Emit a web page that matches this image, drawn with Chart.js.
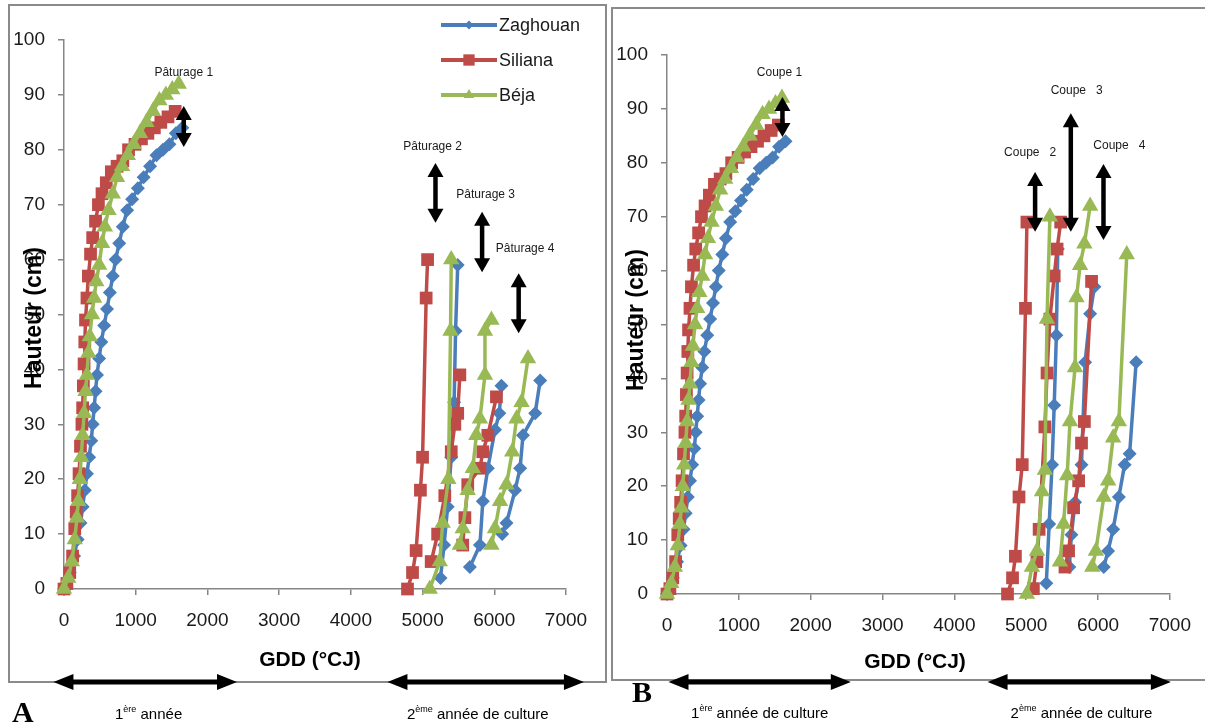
<!DOCTYPE html>
<html>
<head>
<meta charset="utf-8">
<script src="https://cdn.jsdelivr.net/npm/chart.js@4.4.0/dist/chart.umd.min.js"></script>
<style>
  body { margin: 0; background: #fff; width: 1205px; height: 727px; overflow: hidden; }
  #wrapA { position: absolute; left: 0; top: 0; }
  #wrapB { position: absolute; left: 610px; top: 0; }
</style>
</head>
<body>
<div id="wrapA"><canvas id="chartA" width="610" height="727"></canvas></div>
<div id="wrapB"><canvas id="chartB" width="595" height="727"></canvas></div>
<script>
// 1ere annee : GDD (°CJ) et hauteur (cm), memes courbes en A et B
var zagX1 = [0,80,140,190,230,260,290,320,350,380,400,420,440,460,490,520,560,600,640,680,720,770,820,880,950,1030,1110,1200,1290,1380,1470,1560,1650];
var zagY1 = [0,3,6,9,12,15,18,21,24,27,30,33,36,39,42,45,48,51,54,57,60,63,66,69,71,73,75,77,79,80,81,83,84];
var silX1 = [0,40,80,120,150,170,190,210,230,250,260,270,280,290,300,320,340,370,400,440,480,530,590,660,740,820,900,990,1080,1170,1260,1350,1450,1550];
var silY1 = [0,1,3,6,11,14,17,21,26,30,33,37,41,45,49,53,57,61,64,67,70,72,74,76,77,78,80,81,82,83,84,85,86,87];
var bejX1 = [0,60,110,150,180,200,220,240,260,280,300,320,340,360,390,420,450,490,530,570,620,680,740,810,890,970,1060,1150,1240,1330,1420,1510,1600];
var bejY1 = [0,2,5,9,13,16,20,24,28,32,36,39,43,46,50,53,56,59,63,66,69,72,75,77,79,81,83,85,87,89,90,91,92];

// 2eme annee, A (repousses entre paturages 2, 3, 4)
var zagA_x = [[5250,5300,5350,5400,5440,5460,5490], [5660,5800,5840,5910,6010,6070,6100], [6110,6170,6290,6360,6400,6570,6640]];
var zagA_y = [[2,8,15,24,34,47,59], [4,8,16,22,29,32,37], [10,12,18,22,28,32,38]];
var silA_x = [[4790,4860,4910,4970,5000,5050,5070], [5120,5210,5310,5400,5450,5490,5520], [5560,5590,5630,5800,5840,5910,6030]];
var silA_y = [[0,3,7,18,24,53,60], [5,10,17,25,30,32,39], [8,13,19,22,25,28,35]];
var bejA_x = [[5100,5240,5280,5360,5390,5400], [5520,5560,5630,5700,5750,5800,5870,5870,5960], [5960,6010,6080,6170,6250,6310,6380,6470]];
var bejA_y = [[0,5,12,20,47,60], [8,11,18,22,28,31,39,47,49], [8,11,16,19,25,31,34,42]];

// 2eme annee, B (coupes 2, 3, 4)
var zagB_x = [[5280,5320,5360,5390,5420,5440], [5600,5630,5680,5770,5820,5890,5950], [6080,6140,6210,6290,6370,6440,6530]];
var zagB_y = [[2,13,24,35,48,64], [5,11,17,24,43,52,57], [5,8,12,18,24,26,43]];
var silB_x = [[4740,4810,4850,4900,4945,4990,5010], [5100,5150,5180,5260,5290,5330,5390,5430,5480], [5540,5590,5660,5730,5770,5810,5910]];
var silB_y = [[0,3,7,18,24,53,69], [1,6,12,31,41,51,59,64,69], [5,8,16,21,28,32,58]];
var bejB_x = [[5010,5080,5150,5220,5260,5290,5330], [5470,5520,5570,5610,5680,5700,5750,5810,5890], [5920,5970,6080,6140,6210,6290,6400]];
var bejB_y = [[0,5,8,19,23,51,70], [6,13,22,32,42,55,61,65,72], [5,8,18,21,29,32,63]];

var seriesNames = ['Zaghouan', 'Siliana', 'Béja'];
var xTicks = [0, 7000, 1000];   // min, max, pas
var yTicks = [0, 100, 10];

// annotations des coupes (en unites des axes)
var cutsA = {
  labels: ['Pâturage 1', 'Pâturage 2', 'Pâturage 3', 'Pâturage 4'],
  textX: [1670, 5140, 5880, 6430], textY: [94, 80.5, 71.8, 62],
  arrowX: [1670, 5180, 5830, 6340], arrowTop: [88, 77.6, 68.7, 57.5], arrowBot: [80.5, 66.7, 57.7, 46.6]
};
var cutsB = {
  labels: ['Coupe 1', 'Coupe   2', 'Coupe   3', 'Coupe   4'],
  textX: [1566, 5055, 5703, 6297], textY: [96.7, 81.8, 93.3, 83.1],
  arrowX: [1607, 5124, 5621, 6076], arrowTop: [92.2, 78.3, 89.2, 79.8], arrowBot: [84.8, 67.2, 67.2, 65.7]
};

var colors = ['#4A7EBB', '#BE4B48', '#98B954'];
var styles = ['rectRot', 'rect', 'triangle'];
var radii = [7, 9, 9.5];

Chart.defaults.font.family = '"Liberation Sans", Arial, sans-serif';

function mkSet(xs, ys, i) {
  return {
    label: seriesNames[i],
    data: xs.map(function(x, j) { return { x: x, y: ys[j] }; }),
    showLine: true,
    borderColor: colors[i],
    backgroundColor: colors[i],
    borderWidth: 3.5,
    pointStyle: styles[i],
    pointRadius: radii[i],
    pointHoverRadius: radii[i],
    pointBorderWidth: 0,
    clip: false,
    order: 3 - i
  };
}

function buildSets(x1s, y1s, x2s, y2s) {
  var out = [];
  for (var i = 0; i < 3; i++) {
    out.push(mkSet(x1s[i], y1s[i], i));
    for (var k = 0; k < x2s[i].length; k++) out.push(mkSet(x2s[i][k], y2s[i][k], i));
  }
  return out;
}

function drawArrowV(ctx, x, yTop, yBot, head, w) {
  ctx.beginPath();
  ctx.lineWidth = w;
  ctx.moveTo(x, yTop + head - 1); ctx.lineTo(x, yBot - head + 1); ctx.stroke();
  ctx.beginPath();
  ctx.moveTo(x, yTop); ctx.lineTo(x - 8, yTop + head); ctx.lineTo(x + 8, yTop + head); ctx.closePath(); ctx.fill();
  ctx.beginPath();
  ctx.moveTo(x, yBot); ctx.lineTo(x - 8, yBot - head); ctx.lineTo(x + 8, yBot - head); ctx.closePath(); ctx.fill();
}

function drawArrowH(ctx, x0, x1, y) {
  var head = 20;
  ctx.beginPath();
  ctx.lineWidth = 5;
  ctx.moveTo(x0 + head - 1, y); ctx.lineTo(x1 - head + 1, y); ctx.stroke();
  ctx.beginPath();
  ctx.moveTo(x0, y); ctx.lineTo(x0 + head, y - 8); ctx.lineTo(x0 + head, y + 8); ctx.closePath(); ctx.fill();
  ctx.beginPath();
  ctx.moveTo(x1, y); ctx.lineTo(x1 - head, y - 8); ctx.lineTo(x1 - head, y + 8); ctx.closePath(); ctx.fill();
}

function drawYearText(ctx, num, sup, rest, cx, y) {
  ctx.font = '15px "Liberation Sans", Arial, sans-serif';
  var w1 = ctx.measureText(num).width, w3 = ctx.measureText(rest).width;
  ctx.font = '9px "Liberation Sans", Arial, sans-serif';
  var w2 = ctx.measureText(sup).width;
  var x = cx - (w1 + w2 + w3) / 2;
  ctx.textAlign = 'left';
  ctx.textBaseline = 'alphabetic';
  ctx.font = '15px "Liberation Sans", Arial, sans-serif';
  ctx.fillText(num, x, y);
  ctx.font = '9px "Liberation Sans", Arial, sans-serif';
  ctx.fillText(sup, x + w1, y - 7);
  ctx.font = '15px "Liberation Sans", Arial, sans-serif';
  ctx.fillText(rest, x + w1 + w2, y);
}

var decor = {
  id: 'decor',
  afterDatasetsDraw: function(chart, args, o) {
    var ctx = chart.ctx, xs = chart.scales.x, ys = chart.scales.y;
    ctx.save();
    // cadre
    ctx.strokeStyle = '#8a8a8a';
    ctx.lineWidth = 2;
    ctx.strokeRect(o.frame[0], o.frame[1], o.frame[2], o.frame[3]);

    // titres des axes
    ctx.fillStyle = '#000';
    ctx.textAlign = 'center';
    ctx.textBaseline = 'middle';
    ctx.font = 'bold 21px "Liberation Sans", Arial, sans-serif';
    ctx.fillText('GDD (°CJ)', o.xTitle[0], o.xTitle[1]);
    ctx.save();
    ctx.translate(o.yTitle[0], o.yTitle[1]);
    ctx.rotate(-Math.PI / 2);
    ctx.font = 'bold 23px "Liberation Sans", Arial, sans-serif';
    ctx.fillText('Hauteur (cm)', 0, 0);
    ctx.restore();

    // fleches des coupes
    var c = o.cuts;
    ctx.fillStyle = '#000';
    ctx.strokeStyle = '#000';
    for (var i = 0; i < c.labels.length; i++) {
      var ax = xs.getPixelForValue(c.arrowX[i]);
      drawArrowV(ctx, ax, ys.getPixelForValue(c.arrowTop[i]), ys.getPixelForValue(c.arrowBot[i]), 14, 4.5);
      ctx.font = '12px "Liberation Sans", Arial, sans-serif';
      ctx.fillStyle = '#1a1a1a';
      ctx.textAlign = 'center';
      ctx.fillText(c.labels[i], xs.getPixelForValue(c.textX[i]), ys.getPixelForValue(c.textY[i]));
      ctx.fillStyle = '#000';
    }

    // fleches des annees sous le graphique
    for (var k = 0; k < o.years.length; k++) {
      var yr = o.years[k];
      drawArrowH(ctx, xs.getPixelForValue(yr.from), xs.getPixelForValue(yr.to), o.yearArrowY);
      drawYearText(ctx, yr.num, yr.sup, yr.rest, xs.getPixelForValue(yr.mid), o.yearTextY);
    }

    // lettre du panneau
    ctx.font = 'bold 30px "Liberation Serif", "Times New Roman", serif';
    ctx.textAlign = 'left';
    ctx.textBaseline = 'alphabetic';
    ctx.fillText(o.letter[0], o.letter[1], o.letter[2]);

    // legende
    if (o.legend) {
      var L = o.legend;
      for (var s = 0; s < 3; s++) {
        var ly = L.rows[s];
        ctx.strokeStyle = colors[s];
        ctx.fillStyle = colors[s];
        ctx.lineWidth = 4;
        ctx.beginPath(); ctx.moveTo(L.x0, ly); ctx.lineTo(L.x1, ly); ctx.stroke();
        Chart.helpers.drawPoint(ctx, { pointStyle: styles[s], radius: L.radius[s], rotation: 0, borderWidth: 0 }, (L.x0 + L.x1) / 2, ly);
        ctx.fillStyle = '#1a1a1a';
        ctx.font = '18px "Liberation Sans", Arial, sans-serif';
        ctx.textAlign = 'left';
        ctx.textBaseline = 'middle';
        ctx.fillText(seriesNames[s], L.x1 + 2, ly + 1);
      }
    }
    ctx.restore();
  }
};

function axes() {
  var tickFont = { size: 19 };
  var plain = function(v) { return String(v); };
  return {
    x: {
      type: 'linear', min: xTicks[0], max: xTicks[1],
      ticks: { stepSize: xTicks[2], font: tickFont, color: '#1a1a1a', padding: 14, maxRotation: 0, callback: plain },
      grid: { drawOnChartArea: false, tickLength: 6, color: '#868686', lineWidth: 1.5 },
      border: { color: '#868686', width: 1.5 },
      afterFit: function(s) { s.height = 40; }
    },
    y: {
      type: 'linear', min: yTicks[0], max: yTicks[1],
      ticks: { stepSize: yTicks[2], font: tickFont, color: '#1a1a1a', padding: 13, callback: plain },
      grid: { drawOnChartArea: false, tickLength: 6, color: '#868686', lineWidth: 1.5 },
      border: { color: '#868686', width: 1.5 },
      afterFit: function(s) { s.width = 50; }
    }
  };
}

new Chart(document.getElementById('chartA'), {
  type: 'scatter',
  data: { datasets: buildSets([zagX1, silX1, bejX1], [zagY1, silY1, bejY1], [zagA_x, silA_x, bejA_x], [zagA_y, silA_y, bejA_y]) },
  options: {
    responsive: false,
    animation: false,
    events: [],
    layout: { padding: { left: 14, top: 40, right: 44, bottom: 98 } },
    scales: axes(),
    plugins: {
      legend: { display: false },
      tooltip: { enabled: false },
      decor: {
        frame: [9, 5, 597, 677],
        xTitle: [310, 660],
        yTitle: [35, 318],
        cuts: cutsA,
        years: [
          { from: -147, to: 2412, mid: 1180, num: '1', sup: 'ère', rest: ' année' },
          { from: 4510, to: 7250, mid: 5770, num: '2', sup: 'ème', rest: ' année de culture' }
        ],
        yearArrowY: 682,
        yearTextY: 719,
        letter: ['A', 12, 722],
        legend: { x0: 441, x1: 497, rows: [25, 60, 95], radius: [4.5, 8, 6] }
      }
    }
  },
  plugins: [decor]
});

new Chart(document.getElementById('chartB'), {
  type: 'scatter',
  data: { datasets: buildSets([zagX1, silX1, bejX1], [zagY1, silY1, bejY1], [zagB_x, silB_x, bejB_x], [zagB_y, silB_y, bejB_y]) },
  options: {
    responsive: false,
    animation: false,
    events: [],
    layout: { padding: { left: 7, top: 55, right: 31, bottom: 93 } },
    scales: axes(),
    plugins: {
      legend: { display: false },
      tooltip: { enabled: false },
      decor: {
        frame: [2, 8, 620, 672],
        xTitle: [305, 662],
        yTitle: [27, 320],
        cuts: cutsB,
        years: [
          { from: 21, to: 2559, mid: 1290, num: '1', sup: 'ère', rest: ' année de culture' },
          { from: 4462, to: 7014, mid: 5770, num: '2', sup: 'ème', rest: ' année de culture' }
        ],
        yearArrowY: 682,
        yearTextY: 718,
        letter: ['B', 22, 702],
        legend: null
      }
    }
  },
  plugins: [decor]
});
</script>
</body>
</html>
